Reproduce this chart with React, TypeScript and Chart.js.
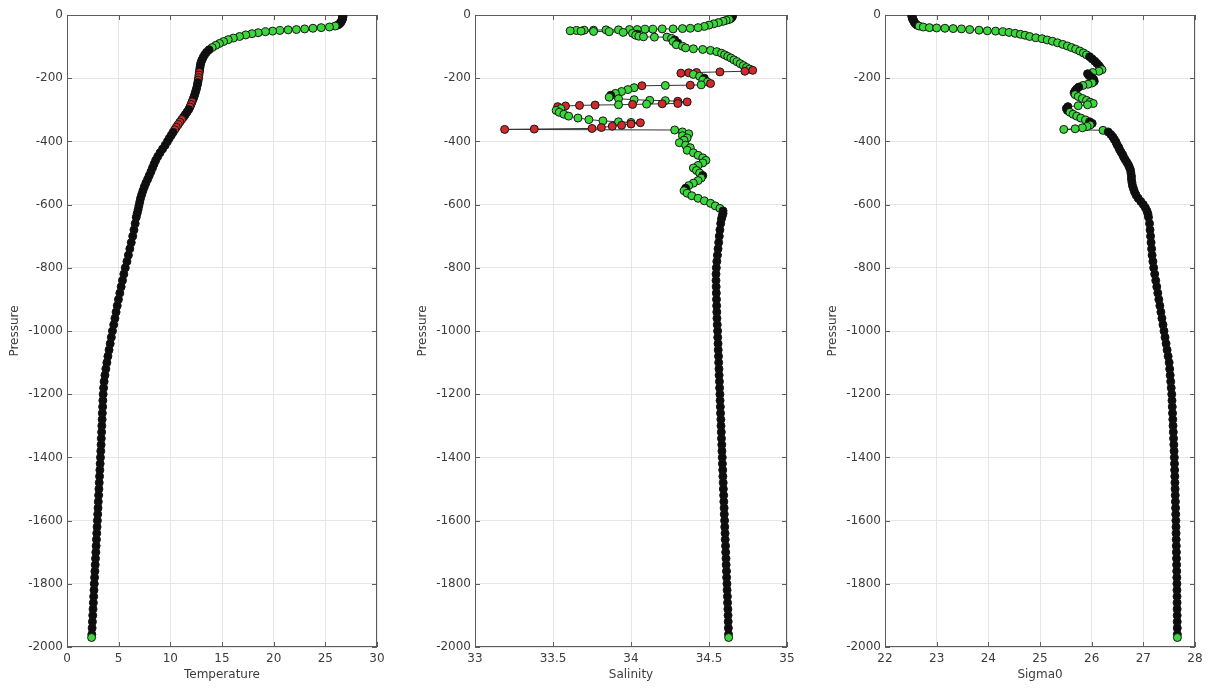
import React, { useEffect, useRef } from "react";
import { Chart, registerables } from "chart.js";

Chart.register(...registerables);

// ---------- DATA ----------
// Upper part of the profile (pressure in dbar, positive down), per variable
const tempUpperPressure = [2, 5, 8, 11, 14, 17, 20, 24, 28, 32, 35, 38, 40, 42, 44, 46, 47, 49, 51, 53, 56, 59, 63, 68, 73, 78, 84, 90, 96, 103, 110, 118, 126, 134, 142, 150, 158, 166, 174, 182, 190, 198, 206, 214, 222, 231, 240, 249, 258, 267, 275, 283, 291, 299, 307, 315, 323, 331, 339, 347, 355, 363, 371, 380, 390, 400, 412, 424, 436, 448, 460, 472, 484, 496, 508, 520, 532, 544, 556, 568, 580, 592, 604, 616, 628, 640];
const tempUpperValues = [26.7, 26.7, 26.68, 26.66, 26.64, 26.6, 26.55, 26.48, 26.38, 26.2, 25.95, 25.4, 24.6, 23.8, 23.0, 22.2, 21.4, 20.6, 19.9, 19.2, 18.5, 17.9, 17.3, 16.7, 16.1, 15.6, 15.15, 14.75, 14.4, 14.05, 13.75, 13.5, 13.32, 13.18, 13.06, 12.97, 12.91, 12.87, 12.84, 12.8, 12.77, 12.74, 12.7, 12.66, 12.61, 12.55, 12.47, 12.39, 12.3, 12.2, 12.1, 12.0, 11.9, 11.78, 11.62, 11.45, 11.28, 11.1, 10.92, 10.75, 10.58, 10.42, 10.27, 10.1, 9.9, 9.72, 9.5, 9.25, 9.0, 8.78, 8.58, 8.42, 8.27, 8.12, 7.96, 7.8, 7.63, 7.48, 7.35, 7.23, 7.12, 7.04, 6.96, 6.88, 6.79, 6.7];
const tempUpperFlags = [0, 0, 0, 0, 0, 0, 0, 0, 0, 0, 0, 0, 0, 0, 0, 0, 0, 0, 0, 0, 0, 0, 0, 0, 0, 0, 0, 0, 0, 0, 0, 0, 0, 0, 0, 0, 0, 0, 0, 1, 1, 1, 1, 0, 0, 0, 0, 0, 0, 0, 1, 1, 1, 0, 0, 0, 0, 1, 1, 1, 1, 1, 0, 0, 0, 0, 0, 0, 0, 0, 0, 0, 0, 0, 0, 0, 0, 0, 0, 0, 0, 0, 0, 0, 0, 0];

const salUpperPressure = [2, 5, 8, 11, 14, 17, 20, 24, 28, 32, 36, 40, 42, 43, 44, 44, 45, 45, 46, 46, 47, 47, 48, 48, 49, 50, 51, 52, 53, 55, 58, 61, 64, 67, 69, 70, 70, 74, 79, 84, 89, 94, 99, 104, 107, 109, 112, 116, 121, 126, 131, 136, 142, 148, 154, 160, 166, 171, 175, 178, 180, 182, 183, 184, 188, 194, 200, 206, 212, 217, 221, 222, 223, 224, 230, 236, 242, 248, 254, 260, 265, 268, 270, 271, 273, 275, 280, 281, 282, 283, 284, 285, 286, 288, 290, 296, 302, 308, 314, 320, 326, 331, 335, 338, 340, 341, 345, 349, 352, 356, 359, 361, 362, 364, 370, 376, 382, 389, 396, 404, 412, 420, 428, 436, 444, 452, 460, 468, 476, 484, 492, 500, 508, 516, 524, 532, 540, 548, 556, 564, 572, 580, 588, 596, 604, 612, 620, 628, 636, 645];
const salUpperValues = [34.65, 34.65, 34.645, 34.64, 34.63, 34.61, 34.59, 34.56, 34.53, 34.5, 34.47, 34.43, 34.38, 34.33, 34.27, 34.2, 34.14, 34.09, 34.04, 33.99, 33.92, 33.84, 33.76, 33.7, 33.65, 33.61, 33.68, 33.76, 33.86, 33.95, 34.01, 34.04, 34.03, 34.05, 34.08, 34.15, 34.23, 34.26, 34.28, 34.27, 34.3, 34.29, 34.33, 34.35, 34.4, 34.46, 34.51, 34.55, 34.58, 34.6, 34.62, 34.64, 34.66, 34.68, 34.7, 34.72, 34.74, 34.76, 34.78, 34.73, 34.57, 34.42, 34.37, 34.32, 34.4, 34.44, 34.47, 34.46, 34.49, 34.51, 34.45, 34.38, 34.22, 34.07, 34.02, 33.98, 33.94, 33.9, 33.87, 33.86, 33.92, 34.02, 34.12, 34.22, 34.3, 34.36, 34.3, 34.2, 34.1, 34.01, 33.92, 33.77, 33.67, 33.58, 33.53, 33.55, 33.52, 33.54, 33.57, 33.6, 33.66, 33.73, 33.82, 33.92, 34.0, 34.06, 34.0, 33.94, 33.88, 33.81, 33.75, 33.38, 33.19, 34.28, 34.33, 34.37, 34.33, 34.36, 34.34, 34.31, 34.35, 34.38, 34.36, 34.4, 34.43, 34.46, 34.48, 34.46, 34.43, 34.4, 34.42, 34.44, 34.46, 34.45, 34.43, 34.4, 34.37, 34.35, 34.34, 34.36, 34.39, 34.43, 34.47, 34.51, 34.54, 34.57, 34.59, 34.59, 34.585, 34.58];
const salUpperFlags = [0, 0, 0, 0, 0, 0, 0, 0, 0, 0, 0, 0, 0, 0, 0, 0, 0, 0, 0, 0, 0, 0, 0, 0, 0, 0, 0, 0, 0, 0, 0, 0, 0, 0, 0, 0, 0, 0, 0, 0, 0, 0, 0, 0, 0, 0, 0, 0, 0, 0, 0, 0, 0, 0, 0, 0, 0, 0, 1, 1, 1, 1, 1, 1, 0, 0, 0, 0, 0, 1, 0, 1, 0, 1, 0, 0, 0, 0, 0, 0, 0, 0, 0, 0, 1, 1, 1, 1, 0, 1, 0, 1, 1, 1, 1, 0, 0, 0, 0, 0, 0, 0, 0, 0, 0, 1, 1, 1, 1, 1, 1, 1, 1, 0, 0, 0, 0, 0, 0, 0, 0, 0, 0, 0, 0, 0, 0, 0, 0, 0, 0, 0, 0, 0, 0, 0, 0, 0, 0, 0, 0, 0, 0, 0, 0, 0, 0, 0, 0, 0];

const sigUpperPressure = [2, 5, 8, 11, 14, 17, 20, 24, 28, 32, 35, 38, 40, 41, 42, 43, 44, 46, 48, 50, 51, 53, 55, 58, 61, 64, 68, 72, 75, 79, 83, 88, 93, 98, 103, 108, 114, 120, 126, 132, 139, 146, 153, 160, 167, 173, 178, 182, 186, 192, 198, 204, 210, 215, 219, 223, 228, 234, 240, 246, 252, 258, 264, 270, 276, 280, 284, 287, 290, 296, 302, 308, 314, 320, 326, 332, 338, 343, 348, 353, 357, 360, 362, 365, 370, 378, 386, 394, 402, 410, 418, 426, 434, 442, 450, 458, 466, 474, 482, 490, 500, 510, 520, 530, 540, 550, 560, 570, 580, 590, 600, 610, 620, 630, 640];
const sigUpperValues = [22.52, 22.52, 22.53, 22.53, 22.54, 22.55, 22.56, 22.57, 22.59, 22.62, 22.66, 22.74, 22.86, 23.0, 23.16, 23.32, 23.48, 23.64, 23.82, 23.98, 24.14, 24.28, 24.4, 24.52, 24.62, 24.71, 24.8, 24.92, 25.04, 25.14, 25.24, 25.34, 25.44, 25.53, 25.61, 25.69, 25.77, 25.84, 25.9, 25.96, 26.01, 26.06, 26.1, 26.14, 26.17, 26.2, 26.14, 26.02, 25.92, 25.95, 26.0, 26.04, 26.05, 26.01, 25.93, 25.83, 25.75, 25.71, 25.68, 25.66, 25.68, 25.74, 25.82, 25.9, 25.97, 26.03, 25.92, 25.74, 25.54, 25.51, 25.53, 25.58, 25.64, 25.71, 25.79, 25.88, 25.96, 26.01, 25.97, 25.91, 25.82, 25.68, 25.46, 26.22, 26.32, 26.37, 26.41, 26.44, 26.47, 26.49, 26.52, 26.54, 26.57, 26.6, 26.62, 26.65, 26.68, 26.71, 26.73, 26.75, 26.76, 26.77, 26.77, 26.78, 26.79, 26.81, 26.83, 26.86, 26.9, 26.95, 27.0, 27.04, 27.07, 27.09, 27.1];

// Deep part of the profile, shared pressure levels
const deepPressure = [660, 680, 700, 720, 740, 760, 780, 800, 820, 840, 860, 880, 900, 920, 940, 960, 980, 1000, 1020, 1040, 1060, 1080, 1100, 1120, 1140, 1160, 1180, 1200, 1220, 1240, 1260, 1280, 1300, 1320, 1340, 1360, 1380, 1400, 1420, 1440, 1460, 1480, 1500, 1520, 1540, 1560, 1580, 1600, 1620, 1640, 1660, 1680, 1700, 1720, 1740, 1760, 1780, 1800, 1820, 1840, 1860, 1880, 1900, 1920, 1940, 1960, 1970];
const deepTemp = [6.6, 6.48, 6.36, 6.22, 6.08, 5.94, 5.8, 5.64, 5.5, 5.37, 5.24, 5.11, 4.98, 4.86, 4.75, 4.64, 4.52, 4.4, 4.29, 4.18, 4.07, 3.96, 3.86, 3.76, 3.67, 3.59, 3.54, 3.5, 3.47, 3.45, 3.42, 3.4, 3.37, 3.35, 3.32, 3.3, 3.27, 3.24, 3.21, 3.18, 3.15, 3.12, 3.09, 3.06, 3.03, 3.0, 2.97, 2.94, 2.91, 2.88, 2.85, 2.82, 2.79, 2.76, 2.73, 2.7, 2.67, 2.64, 2.61, 2.58, 2.55, 2.52, 2.49, 2.46, 2.43, 2.4, 2.38];
const deepSal = [34.575, 34.57, 34.566, 34.562, 34.558, 34.554, 34.55, 34.547, 34.545, 34.545, 34.546, 34.547, 34.548, 34.549, 34.55, 34.551, 34.553, 34.555, 34.556, 34.558, 34.559, 34.561, 34.562, 34.564, 34.565, 34.567, 34.568, 34.57, 34.571, 34.573, 34.574, 34.576, 34.577, 34.579, 34.58, 34.582, 34.583, 34.585, 34.586, 34.588, 34.589, 34.591, 34.592, 34.594, 34.595, 34.597, 34.598, 34.6, 34.601, 34.603, 34.604, 34.606, 34.607, 34.609, 34.61, 34.612, 34.613, 34.615, 34.616, 34.618, 34.619, 34.621, 34.622, 34.623, 34.624, 34.625, 34.626];
const deepSigma = [27.12, 27.13, 27.14, 27.15, 27.16, 27.17, 27.185, 27.2, 27.22, 27.24, 27.26, 27.28, 27.3, 27.32, 27.34, 27.36, 27.38, 27.4, 27.42, 27.44, 27.46, 27.48, 27.5, 27.51, 27.52, 27.53, 27.54, 27.55, 27.555, 27.56, 27.565, 27.57, 27.575, 27.58, 27.585, 27.59, 27.595, 27.6, 27.603, 27.606, 27.609, 27.612, 27.615, 27.618, 27.621, 27.624, 27.627, 27.63, 27.632, 27.634, 27.636, 27.638, 27.64, 27.642, 27.644, 27.646, 27.648, 27.65, 27.651, 27.652, 27.653, 27.654, 27.655, 27.656, 27.657, 27.658, 27.659];

const panelTitles = ["Temperature", "Salinity", "Sigma0"];
const yAxisTitle = "Pressure";
const xRanges = [
  [0, 30, 5],
  [33, 35, 0.5],
  [22, 28, 1],
];
const yRange = [-2000, 0, 200];

// ---------- STYLE ----------
const FONT = "'DejaVu Sans', sans-serif";
const TEXT = "#3c3c3c";
const GREEN = "#3bd83b";
const DARK = "#0d0d0d";
const RED = "#d22a2a";

const boxPlugin = {
  id: "matlabBox",
  beforeDatasetsDraw(chart: any) {
    const { ctx, chartArea: a, scales } = chart;
    ctx.save();
    ctx.strokeStyle = "#5c5c5c";
    ctx.lineWidth = 1;
    ctx.strokeRect(a.left + 0.5, a.top + 0.5, a.right - a.left - 1, a.bottom - a.top - 1);
    const L = 5;
    ctx.beginPath();
    scales.x.ticks.forEach((t: any) => {
      const px = Math.round(scales.x.getPixelForValue(t.value)) + 0.5;
      ctx.moveTo(px, a.bottom);
      ctx.lineTo(px, a.bottom - L);
      ctx.moveTo(px, a.top);
      ctx.lineTo(px, a.top + L);
    });
    scales.y.ticks.forEach((t: any) => {
      const py = Math.round(scales.y.getPixelForValue(t.value)) + 0.5;
      ctx.moveTo(a.left, py);
      ctx.lineTo(a.left + L, py);
      ctx.moveTo(a.right, py);
      ctx.lineTo(a.right - L, py);
    });
    ctx.stroke();
    ctx.restore();
  },
};

type PanelCfg = {
  left: number;
  width: number;
  axisWidth: number;
  rightPad: number;
  title: string;
  range: number[];
  pressures: number[];
  values: number[];
  flags: number[];
};

function ProfilePanel({ cfg }: { cfg: PanelCfg }) {
  const ref = useRef<HTMLCanvasElement>(null);
  useEffect(() => {
    if (!ref.current) return;
    const points = cfg.values.map((v, i) => ({ x: v, y: -cfg.pressures[i] }));
    const flags = cfg.flags;
    const fill = (ctx: any) => {
      const i = ctx.dataIndex;
      if (typeof i !== "number") return GREEN;
      if (flags[i]) return RED;
      const data = ctx.dataset.data;
      if (i >= data.length - 1) return GREEN;
      const xs = ctx.chart.scales.x;
      const ys = ctx.chart.scales.y;
      const dx = Math.abs(xs.getPixelForValue(data[i + 1].x) - xs.getPixelForValue(data[i].x));
      const dy = Math.abs(ys.getPixelForValue(data[i + 1].y) - ys.getPixelForValue(data[i].y));
      return dx < 3 && dy < 8 ? DARK : GREEN;
    };
    const titlePad = cfg.axisWidth - 52 - 7.2;
    const chart = new Chart(ref.current, {
      type: "scatter",
      data: {
        datasets: [
          {
            data: points,
            showLine: true,
            borderColor: "#333333",
            borderWidth: 1,
            pointRadius: 4,
            pointHoverRadius: 4,
            pointBorderWidth: 1,
            pointBorderColor: "#141414",
            pointBackgroundColor: fill,
          },
        ],
      },
      options: {
        responsive: false,
        animation: false,
        devicePixelRatio: 1,
        events: [],
        layout: { padding: { left: 0, right: cfg.rightPad, top: 15, bottom: 0 } },
        plugins: { legend: { display: false }, tooltip: { enabled: false } },
        scales: {
          x: {
            type: "linear",
            min: cfg.range[0],
            max: cfg.range[1],
            ticks: {
              stepSize: cfg.range[2],
              font: { family: FONT, size: 12 },
              color: TEXT,
              padding: 5,
              maxRotation: 0,
              callback: (v: any) => String(Math.round(Number(v) * 100) / 100),
            },
            grid: { color: "#e6e6e6", drawTicks: false },
            border: { display: false },
            title: {
              display: true,
              text: cfg.title,
              font: { family: FONT, size: 12 },
              color: TEXT,
              padding: { top: 0, bottom: 7 },
            },
            afterFit: (s: any) => {
              s.height = 42;
            },
          },
          y: {
            type: "linear",
            min: yRange[0],
            max: yRange[1],
            ticks: {
              stepSize: yRange[2],
              font: { family: FONT, size: 12 },
              color: TEXT,
              padding: 4,
              callback: (v: any) => String(v),
            },
            grid: { color: "#e6e6e6", drawTicks: false },
            border: { display: false },
            title: {
              display: true,
              text: yAxisTitle,
              font: { family: FONT, size: 12 },
              color: TEXT,
              padding: { top: titlePad, bottom: 0 },
            },
            afterFit: (s: any) => {
              s.width = cfg.axisWidth;
            },
          },
        },
      },
      plugins: [boxPlugin],
    } as any);
    return () => chart.destroy();
  }, []);
  return (
    <canvas
      ref={ref}
      width={cfg.width}
      height={689}
      style={{ position: "absolute", left: cfg.left, top: 0, width: cfg.width, height: 689 }}
    />
  );
}

const zeros = (n: number) => new Array(n).fill(0);

export default function App() {
  const panels: PanelCfg[] = [
    {
      left: 0,
      width: 400,
      axisWidth: 67,
      rightPad: 23,
      title: panelTitles[0],
      range: xRanges[0],
      pressures: [...tempUpperPressure, ...deepPressure],
      values: [...tempUpperValues, ...deepTemp],
      flags: [...tempUpperFlags, ...zeros(deepPressure.length)],
    },
    {
      left: 400,
      width: 410,
      axisWidth: 75,
      rightPad: 23,
      title: panelTitles[1],
      range: xRanges[1],
      pressures: [...salUpperPressure, ...deepPressure],
      values: [...salUpperValues, ...deepSal],
      flags: [...salUpperFlags, ...zeros(deepPressure.length)],
    },
    {
      left: 810,
      width: 403,
      axisWidth: 75,
      rightPad: 18,
      title: panelTitles[2],
      range: xRanges[2],
      pressures: [...sigUpperPressure, ...deepPressure],
      values: [...sigUpperValues, ...deepSigma],
      flags: zeros(sigUpperPressure.length + deepPressure.length),
    },
  ];
  return (
    <div style={{ position: "absolute", left: 0, top: 0, width: 1213, height: 689, background: "#fff" }}>
      {panels.map((p, i) => (
        <ProfilePanel key={i} cfg={p} />
      ))}
    </div>
  );
}
